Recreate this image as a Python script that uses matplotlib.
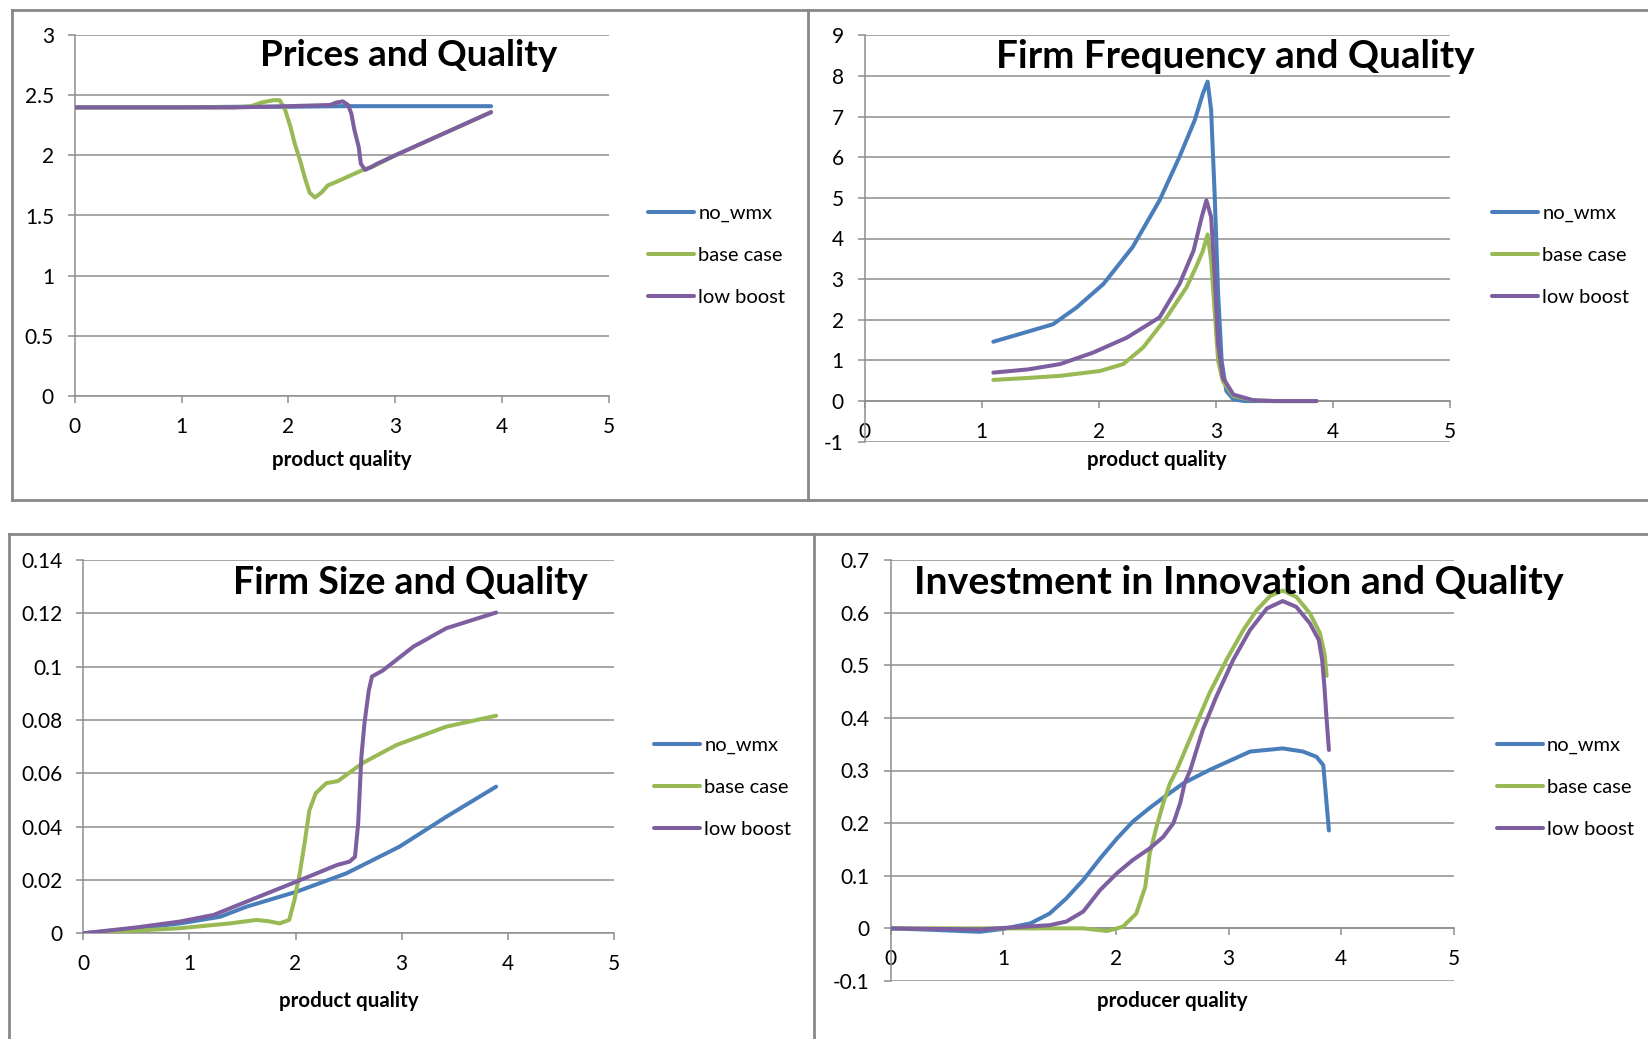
import matplotlib
matplotlib.use('Agg')
import matplotlib.pyplot as plt
from matplotlib.lines import Line2D

W, H = 1648, 1039
plt.rcParams['font.family'] = ['Lato', 'DejaVu Sans']

series_names = ['no_wmx', 'base case', 'low boost']
colors = ['#4A7EBB', '#98B954', '#7D5FA0']

# ---------------- Panel 1: Prices and Quality ----------------
p1_blue_x = [0, 0.5, 1.0, 1.5, 2.0, 2.5, 3.0, 3.5, 3.9]
p1_blue_y = [2.40, 2.40, 2.40, 2.405, 2.405, 2.41, 2.41, 2.41, 2.41]
p1_green_x = [0, 0.5, 1.0, 1.5, 1.65, 1.75, 1.86, 1.92, 1.97, 2.02, 2.06, 2.11, 2.16, 2.20,
              2.25, 2.31, 2.37, 2.45, 2.55, 2.70, 2.80, 3.0, 3.5, 3.9]
p1_green_y = [2.40, 2.40, 2.40, 2.40, 2.41, 2.44, 2.46, 2.46, 2.38, 2.24, 2.10, 1.96, 1.80, 1.69,
              1.65, 1.69, 1.75, 1.78, 1.82, 1.88, 1.91, 2.00, 2.20, 2.36]
p1_purple_x = [0, 0.5, 1.0, 1.5, 2.0, 2.39, 2.45, 2.51, 2.56, 2.59, 2.62, 2.66, 2.68, 2.72,
               2.77, 2.83, 3.0, 3.5, 3.9]
p1_purple_y = [2.40, 2.40, 2.40, 2.40, 2.41, 2.42, 2.44, 2.45, 2.42, 2.35, 2.21, 2.07, 1.93, 1.88,
               1.90, 1.93, 2.00, 2.20, 2.36]

# ---------------- Panel 2: Firm Frequency and Quality ----------------
p2_blue_x = [1.10, 1.35, 1.61, 1.81, 2.04, 2.29, 2.52, 2.69, 2.82, 2.89, 2.93, 2.96, 2.99,
             3.02, 3.05, 3.09, 3.15, 3.25, 3.5, 3.86]
p2_blue_y = [1.46, 1.67, 1.89, 2.30, 2.88, 3.79, 4.94, 6.01, 6.91, 7.57, 7.86, 7.16, 5.10,
             2.63, 0.99, 0.25, 0.04, 0.0, 0.0, 0.0]
p2_green_x = [1.10, 1.40, 1.67, 2.01, 2.21, 2.38, 2.58, 2.75, 2.83, 2.89, 2.93, 2.96, 2.99,
              3.02, 3.06, 3.15, 3.32, 3.5, 3.86]
p2_green_y = [0.52, 0.57, 0.62, 0.74, 0.91, 1.32, 2.06, 2.80, 3.29, 3.70, 4.10, 3.46, 2.22,
              0.99, 0.49, 0.12, 0.02, 0.0, 0.0]
p2_purple_x = [1.10, 1.40, 1.67, 1.95, 2.24, 2.52, 2.69, 2.81, 2.88, 2.92, 2.96, 2.99, 3.02,
               3.06, 3.15, 3.32, 3.5, 3.86]
p2_purple_y = [0.70, 0.78, 0.91, 1.19, 1.56, 2.06, 2.88, 3.70, 4.53, 4.94, 4.53, 3.13, 1.40,
               0.58, 0.16, 0.02, 0.0, 0.0]

# ---------------- Panel 3: Firm Size and Quality ----------------
p3_blue_x = [0, 0.5, 0.91, 1.29, 1.54, 2.01, 2.48, 2.98, 3.42, 3.89]
p3_blue_y = [0, 0.0018, 0.0037, 0.0062, 0.0100, 0.0156, 0.0225, 0.0325, 0.0437, 0.0550]
p3_green_x = [0, 0.5, 0.91, 1.38, 1.63, 1.75, 1.85, 1.94, 1.99, 2.04, 2.09, 2.13, 2.19, 2.29,
              2.40, 2.63, 2.95, 3.42, 3.89]
p3_green_y = [0, 0.0010, 0.0019, 0.0037, 0.0050, 0.0045, 0.0037, 0.0050, 0.0125, 0.0225, 0.0350,
              0.0460, 0.0525, 0.0563, 0.0571, 0.0638, 0.0706, 0.0775, 0.0816]
p3_purple_x = [0, 0.5, 0.91, 1.23, 1.54, 2.01, 2.39, 2.51, 2.56, 2.59, 2.62, 2.65, 2.69, 2.72,
               2.82, 3.11, 3.42, 3.89]
p3_purple_y = [0, 0.0022, 0.0044, 0.0069, 0.0119, 0.0194, 0.0256, 0.0269, 0.0287, 0.0410, 0.0660,
               0.0790, 0.0910, 0.0963, 0.0985, 0.1075, 0.1144, 0.1203]

# ---------------- Panel 4: Investment in Innovation and Quality ----------------
p4_blue_x = [0, 0.4, 0.79, 1.0, 1.24, 1.41, 1.56, 1.71, 1.86, 2.01, 2.15, 2.30, 2.45, 2.60,
             2.83, 3.19, 3.48, 3.66, 3.78, 3.84, 3.89]
p4_blue_y = [0, -0.003, -0.0065, -0.001, 0.0095, 0.028, 0.057, 0.092, 0.133, 0.171, 0.203,
             0.229, 0.253, 0.276, 0.301, 0.336, 0.342, 0.336, 0.326, 0.310, 0.186]
p4_green_x = [0, 0.5, 1.0, 1.38, 1.71, 1.92, 2.06, 2.18, 2.26, 2.30, 2.36, 2.42, 2.48, 2.54,
              2.69, 2.83, 2.98, 3.13, 3.25, 3.37, 3.48, 3.60, 3.72, 3.81, 3.85, 3.87]
p4_green_y = [0, 0, 0, 0, 0, -0.005, 0.003, 0.028, 0.079, 0.143, 0.193, 0.238, 0.276, 0.301,
              0.377, 0.447, 0.510, 0.567, 0.605, 0.632, 0.642, 0.630, 0.599, 0.561, 0.523, 0.48]
p4_purple_x = [0, 0.79, 1.41, 1.56, 1.71, 1.86, 2.01, 2.15, 2.30, 2.42, 2.51, 2.57, 2.61, 2.66,
               2.77, 2.89, 3.04, 3.19, 3.34, 3.48, 3.60, 3.72, 3.80, 3.83, 3.85, 3.87, 3.89]
p4_purple_y = [0, -0.002, 0.006, 0.013, 0.032, 0.073, 0.105, 0.130, 0.152, 0.174, 0.200, 0.238,
               0.276, 0.301, 0.377, 0.440, 0.510, 0.567, 0.608, 0.622, 0.611, 0.580, 0.548,
               0.510, 0.459, 0.396, 0.339]

x_ticks = [0, 1, 2, 3, 4, 5]
x_tick_labels = ['0', '1', '2', '3', '4', '5']
p1_yticks = [0, 0.5, 1, 1.5, 2, 2.5, 3]
p1_ylabels = ['0', '0.5', '1', '1.5', '2', '2.5', '3']
p2_yticks = [-1, 0, 1, 2, 3, 4, 5, 6, 7, 8, 9]
p2_ylabels = ['-1', '0', '1', '2', '3', '4', '5', '6', '7', '8', '9']
p3_yticks = [0, 0.02, 0.04, 0.06, 0.08, 0.10, 0.12, 0.14]
p3_ylabels = ['0', '0.02', '0.04', '0.06', '0.08', '0.1', '0.12', '0.14']
p4_yticks = [-0.1, 0, 0.1, 0.2, 0.3, 0.4, 0.5, 0.6, 0.7]
p4_ylabels = ['-0.1', '0', '0.1', '0.2', '0.3', '0.4', '0.5', '0.6', '0.7']

titles = ['Prices and Quality', 'Firm Frequency and Quality',
          'Firm Size and Quality', 'Investment in Innovation and Quality']
xlabels = ['product quality', 'product quality', 'product quality', 'producer quality']

fig = plt.figure(figsize=(W / 100, H / 100), dpi=100)
fig.patch.set_facecolor('white')


def rect(l, r, t, b):
    return [l / W, 1 - b / H, (r - l) / W, (b - t) / H]


def fx(x):
    return x / W


def fy(y):
    return 1 - y / H


panels = [
    dict(box=(74.8, 608.5, 35.3, 395.7), ylim=(0, 3), yt=p1_yticks, yl=p1_ylabels,
         data=[(p1_blue_x, p1_blue_y), (p1_green_x, p1_green_y), (p1_purple_x, p1_purple_y)],
         title=(409, 56), leg=(648, 205), xlab=460, tsize=26.5),
    dict(box=(864.5, 1450, 35.3, 441.7), ylim=(-1, 9), yt=p2_yticks, yl=p2_ylabels,
         data=[(p2_blue_x, p2_blue_y), (p2_green_x, p2_green_y), (p2_purple_x, p2_purple_y)],
         title=(1235, 56), leg=(1492, 205), xlab=460, tsize=27.8),
    dict(box=(83.2, 614, 560, 933.3), ylim=(0, 0.14), yt=p3_yticks, yl=p3_ylabels,
         data=[(p3_blue_x, p3_blue_y), (p3_green_x, p3_green_y), (p3_purple_x, p3_purple_y)],
         title=(410, 583), leg=(654, 737), xlab=1001, tsize=27.0),
    dict(box=(890.6, 1454, 560, 981), ylim=(-0.1, 0.7), yt=p4_yticks, yl=p4_ylabels,
         data=[(p4_blue_x, p4_blue_y), (p4_green_x, p4_green_y), (p4_purple_x, p4_purple_y)],
         title=(1239, 582), leg=(1496.6, 737), xlab=1001, tsize=28.3),
]

grid_col = '#8E8E8E'
for i, p in enumerate(panels):
    ax = fig.add_axes(rect(*p['box']))
    ax.set_facecolor('none')
    for (xs, ys), c, name in zip(p['data'], colors, series_names):
        ax.plot(xs, ys, color=c, lw=2.9, label=name, solid_capstyle='round',
                solid_joinstyle='round', zorder=3)
    ax.set_xlim(0, 5)
    ax.set_ylim(*p['ylim'])
    ax.set_xticks(x_ticks)
    ax.set_xticklabels(x_tick_labels)
    ax.set_yticks(p['yt'])
    ax.set_yticklabels(p['yl'])
    for s in ['top', 'right']:
        ax.spines[s].set_visible(False)
    ax.spines['bottom'].set_position(('data', 0))
    ax.spines['bottom'].set_color(grid_col)
    ax.spines['left'].set_color(grid_col)
    ax.spines['bottom'].set_linewidth(1.1)
    ax.spines['left'].set_linewidth(1.1)
    ax.yaxis.grid(True, color=grid_col, lw=1.1)
    ax.set_axisbelow(True)
    ax.tick_params(axis='x', direction='out', length=5, width=1.1, color=grid_col,
                   pad=10, labelsize=15)
    ax.tick_params(axis='y', direction='out', length=5, width=1.1, color=grid_col,
                   pad=10, labelsize=15)
    ax.set_xlabel(xlabels[i], fontsize=14.8, fontweight='bold')
    ax.xaxis.set_label_coords(0.5 * (fx(p['box'][0]) + fx(p['box'][1])), fy(p['xlab']),
                              transform=fig.transFigure)
    ax.xaxis.label.set_verticalalignment('center')
    fig.text(fx(p['title'][0]), fy(p['title'][1]), titles[i], fontsize=p['tsize'],
             fontweight='bold', ha='center', va='center')
    ax.legend(loc='upper left', bbox_to_anchor=(fx(p['leg'][0]), fy(p['leg'][1])),
              bbox_transform=fig.transFigure, frameon=False, fontsize=14.5,
              handlelength=2.3, handletextpad=0.2, labelspacing=1.22,
              borderpad=0, borderaxespad=0)

# panel borders
bc = '#888888'
blw = 2.0
segs = [
    ((11.5, 10), (W, 10)),
    ((11.5, 500), (W, 500)),
    ((11.5, 10), (11.5, 500)),
    ((807.7, 10), (807.7, 500)),
    ((9.4, 534), (W, 534)),
    ((9.4, 534), (9.4, H)),
    ((814.3, 534), (814.3, H)),
]
for (x0, y0), (x1, y1) in segs:
    fig.add_artist(Line2D([fx(x0), fx(x1)], [fy(y0), fy(y1)], color=bc, lw=blw,
                          transform=fig.transFigure))

fig.savefig('out.png', dpi=100)
